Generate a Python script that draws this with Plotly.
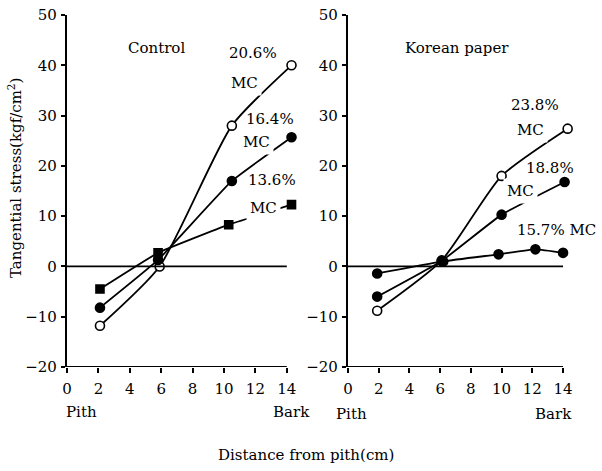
import plotly.graph_objects as go

# ---- data ----
ctrl_x_206 = [2.1, 5.9, 10.5, 14.3]
ctrl_y_206 = [-11.8, 0.0, 28.0, 40.0]
ctrl_x_164 = [2.1, 5.8, 10.5, 14.3]
ctrl_y_164 = [-8.2, 1.3, 17.0, 25.7]
ctrl_x_136 = [2.1, 5.8, 10.3, 14.3]
ctrl_y_136 = [-4.5, 2.7, 8.3, 12.3]

kor_x_238 = [1.9, 6.1, 10.0, 14.3]
kor_y_238 = [-8.8, 1.2, 18.0, 27.4]
kor_x_188 = [1.9, 6.1, 10.0, 14.1]
kor_y_188 = [-6.0, 1.1, 10.3, 16.8]
kor_x_157 = [1.9, 6.2, 9.8, 12.2, 14.0]
kor_y_157 = [-1.4, 1.0, 2.4, 3.4, 2.7]

x_ticks = [0, 2, 4, 6, 8, 10, 12, 14]
y_ticks = [-20, -10, 0, 10, 20, 30, 40, 50]

FONT = "DejaVu Serif"
W, H = 602, 471

fig = go.Figure()

def add(x, y, xa, ya, symbol, color, smooth):
    fig.add_trace(go.Scatter(
        x=x, y=y, xaxis=xa, yaxis=ya, mode="lines+markers",
        line=dict(color="black", width=1.8, shape="spline", smoothing=smooth),
        marker=dict(symbol=symbol, size=9 if "circle" in symbol else 8,
                    color=color, line=dict(color="black", width=1.6)),
        cliponaxis=False, showlegend=False, hoverinfo="skip"))

add(ctrl_x_206, ctrl_y_206, "x", "y", "circle", "white", 0.6)
add(ctrl_x_164, ctrl_y_164, "x", "y", "circle", "black", 0.3)
add(ctrl_x_136, ctrl_y_136, "x", "y", "square", "black", 0.3)
add(kor_x_238, kor_y_238, "x2", "y2", "circle", "white", 0.6)
add(kor_x_188, kor_y_188, "x2", "y2", "circle", "black", 0.3)
add(kor_x_157, kor_y_157, "x2", "y2", "circle", "black", 0.5)

axis_font = dict(family=FONT, size=15, color="black")
ytop = 1 - 15 / H
ybot = 1 - 367 / H
xcommon = dict(range=[0, 15], tickvals=x_ticks, ticks="outside", ticklen=5,
               tickwidth=2, tickcolor="black", showline=False, showgrid=False,
               zeroline=False, tickfont=axis_font, ticklabelstandoff=3,
               automargin=False)
ycommon = dict(range=[-20, 50], tickvals=y_ticks, ticks="outside", ticklen=4,
               tickwidth=1.5, tickcolor="black", showline=True, linecolor="black",
               linewidth=2.2, showgrid=False, zeroline=False, tickfont=axis_font,
               domain=[ybot, ytop], ticklabelstandoff=1, automargin=False)

fig.update_layout(
    width=W, height=H, margin=dict(l=0, r=0, t=0, b=0, autoexpand=False),
    paper_bgcolor="white", plot_bgcolor="white",
    xaxis=dict(domain=[67 / W, (67 + 15 * 15.7) / W], anchor="y", **xcommon),
    yaxis=dict(anchor="x", **ycommon),
    xaxis2=dict(domain=[348 / W, (348 + 15 * 15.36) / W], anchor="y2", **xcommon),
    yaxis2=dict(anchor="x2", **ycommon),
)

shapes = []
for xr, yr in (("x", "y"), ("x2", "y2")):
    shapes.append(dict(type="line", xref=xr, yref=yr, x0=0, x1=14, y0=-20, y1=-20,
                       line=dict(color="black", width=2.2)))
    shapes.append(dict(type="line", xref=xr, yref=yr, x0=0, x1=14, y0=0, y1=0,
                       line=dict(color="black", width=1.8)))
fig.update_layout(shapes=shapes)

tf = dict(family=FONT, size=15, color="black")
ann = []

def label(text, x, y, xr, yr, bg=None, pad=0):
    d = dict(text=text, x=x, y=y, xref=xr, yref=yr, showarrow=False,
             font=tf, xanchor="center", yanchor="middle", borderpad=pad)
    if bg:
        d["bgcolor"] = bg
    ann.append(d)

label("Control", 5.7, 43.5, "x", "y")
label("20.6%", 11.85, 42.5, "x", "y")
label("MC", 11.3, 36.4, "x", "y", "white", 3)
label("16.4%", 12.9, 29.4, "x", "y")
label("MC", 12.1, 24.8, "x", "y", "white", 3)
label("13.6%", 13.05, 17.1, "x", "y")
label("MC", 12.5, 11.6, "x", "y", "white", 3)

label("Korean paper", 7.1, 43.4, "x2", "y2")
label("23.8%", 12.2, 32.1, "x2", "y2")
label("MC", 11.85, 27.1, "x2", "y2", "white", 3)
label("18.8%", 13.15, 19.5, "x2", "y2")
label("MC", 11.2, 15.1, "x2", "y2", "white", 3)
label("15.7% MC", 13.6, 7.2, "x2", "y2")

label("Pith", 81 / W, 1 - 412 / H, "paper", "paper")
label("Bark", 291 / W, 1 - 412 / H, "paper", "paper")
label("Pith", 351 / W, 1 - 414 / H, "paper", "paper")
label("Bark", 553 / W, 1 - 414 / H, "paper", "paper")
label("Distance from pith(cm)", 306 / W, 1 - 455 / H, "paper", "paper")
ann.append(dict(text="Tangential stress(kgf/cm<sup>2</sup>)", x=15 / W, y=1 - 178 / H,
                xref="paper", yref="paper", showarrow=False, textangle=-90,
                font=tf, xanchor="center", yanchor="middle"))
fig.update_layout(annotations=ann)

fig.write_html("out.html")
